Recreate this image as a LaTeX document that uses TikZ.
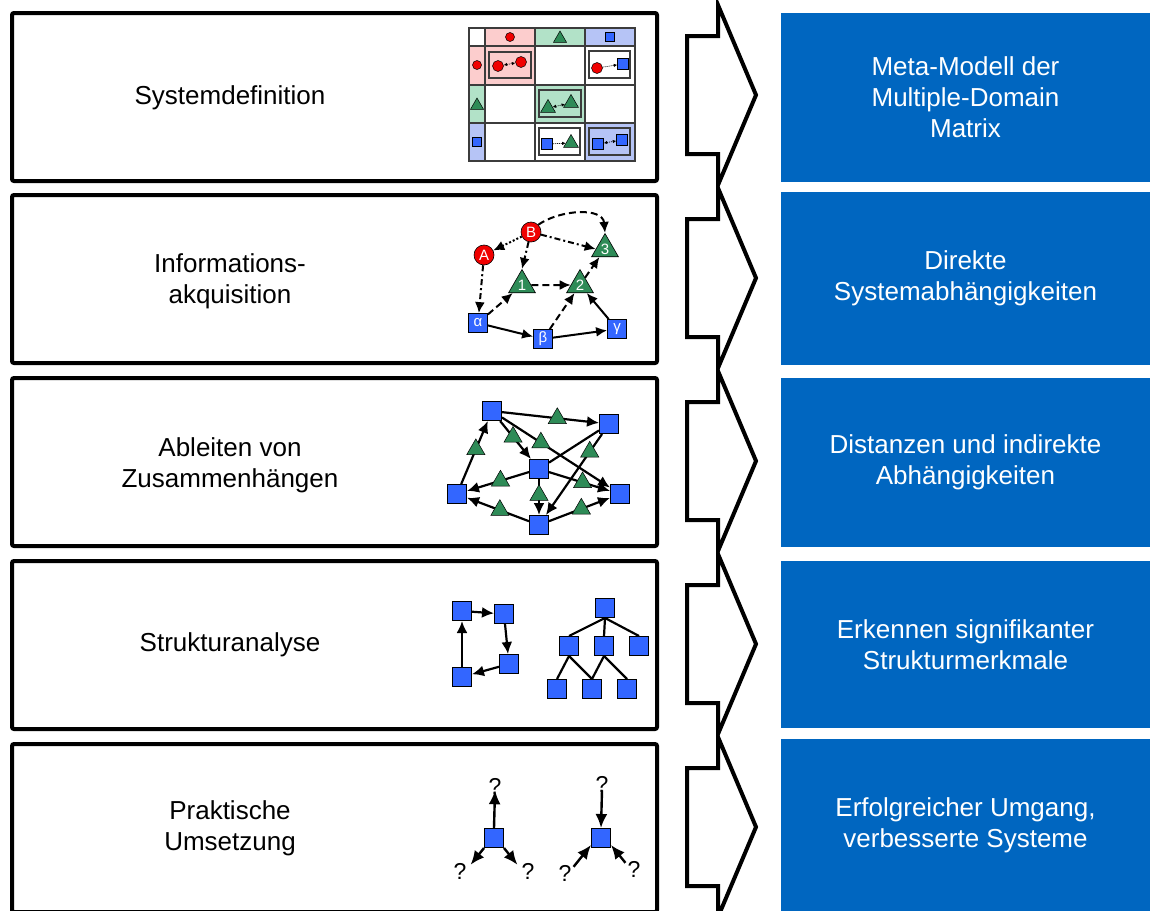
\documentclass[tikz,border=0pt]{standalone}
\usepackage{fontspec}
\setmainfont{Liberation Sans}
\usetikzlibrary{arrows.meta,shapes.geometric}

\definecolor{panelblue}{RGB}{0,102,192}
\definecolor{nodered}{RGB}{240,0,0}
\definecolor{nodegreen}{RGB}{46,139,87}
\definecolor{nodeblue}{RGB}{51,102,255}
\definecolor{tintred}{RGB}{252,205,205}
\definecolor{tintgreen}{RGB}{178,226,200}
\definecolor{tintblue}{RGB}{182,196,246}
\definecolor{gridgray}{RGB}{60,60,60}

\begin{document}
\begin{tikzpicture}[x=1pt,y=-1pt,
  stagebox/.style={draw=black, line width=4pt, rounded corners=2pt, fill=white,
    minimum width=645pt, minimum height=168pt, inner sep=0pt},
  stagelabel/.style={align=center, font=\fontsize{26}{31}\selectfont},
  stagearrow/.style={draw=black, line width=4pt, fill=white, line join=miter},
  resultbox/.style={fill=panelblue, text=white, align=center, inner sep=0pt,
    minimum width=369pt, font=\fontsize{26}{31}\selectfont},
  gridline/.style={draw=gridgray, line width=1.4pt},
  cellbox/.style={draw=gridgray, line width=1.2pt},
  mcirc/.style={circle, draw=black, line width=0.5pt, fill=nodered, minimum size=11pt, inner sep=0pt},
  mtri/.style={regular polygon, regular polygon sides=3, draw=black, line width=0.5pt,
    fill=nodegreen, minimum size=17pt, inner sep=0pt},
  msq/.style={rectangle, draw=black, line width=0.5pt, fill=nodeblue, minimum size=11pt, inner sep=0pt},
  mlink/.style={line width=0.7pt, dash pattern=on 1pt off 1pt},
  mtip/.style={-{Latex[length=3.5pt,width=3.5pt]}},
  mtips/.style={{Latex[length=3.5pt,width=3.5pt]}-{Latex[length=3.5pt,width=3.5pt]}},
  icirc/.style={circle, draw=black, line width=0.6pt, fill=nodered, minimum size=20pt, inner sep=0pt,
    text=white, font=\fontsize{15}{15}\selectfont},
  itri/.style={regular polygon, regular polygon sides=3, draw=black, line width=0.6pt,
    fill=nodegreen, minimum size=31pt, inner sep=0pt, text=white, font=\fontsize{15}{15}\selectfont},
  isq/.style={rectangle, draw=black, line width=0.8pt, fill=nodeblue, minimum size=19pt, inner sep=0pt,
    text=white, font=\fontsize{15}{15}\selectfont},
  bsq/.style={rectangle, draw=black, line width=1pt, fill=nodeblue, minimum size=19pt, inner sep=0pt},
  dtri/.style={regular polygon, regular polygon sides=3, draw=black, line width=0.5pt,
    fill=nodegreen, minimum size=21pt, inner sep=0pt},
  ilink/.style={line width=2pt, -{Latex[length=11pt,width=10pt]}},
  link/.style={line width=2.2pt, -{Latex[length=12pt,width=11pt]}},
  plainlink/.style={line width=2.2pt},
  dashlink/.style={ilink, dash pattern=on 7pt off 4pt},
  dotlink/.style={ilink, dash pattern=on 2pt off 2pt},
  dashdotlink/.style={ilink, dash pattern=on 6pt off 3pt on 2pt off 3pt},
  qmark/.style={font=\fontsize{23}{23}\selectfont, inner sep=0pt},
  biglink/.style={line width=2.4pt, -{Latex[length=14pt,width=12pt]}}
]
\useasboundingbox (0,0) rectangle (1150,910);

% ---------- stage boxes on the left ----------
\node[stagebox] (box1) at (334.5, 97) {};
\node[stagebox] (box2) at (334.5, 279) {};
\node[stagebox] (box3) at (334.5, 462) {};
\node[stagebox] (box4) at (334.5, 645) {};
\node[stagebox] (box5) at (334.5, 828) {};

\node[stagelabel] (lab1) at (230, 98) {Systemdefinition};
\node[stagelabel] (lab2) at (230, 281) {Informations-\\akquisition};
\node[stagelabel] (lab3) at (230, 465) {Ableiten von\\Zusammenhängen};
\node[stagelabel] (lab4) at (230, 645) {Strukturanalyse};
\node[stagelabel] (lab5) at (230, 828) {Praktische\\Umsetzung};

% ---------- chevron arrows ----------
\foreach \c in {95,278,461,644,827} {
  \draw[stagearrow] (687,\c-59) -- (718,\c-59) -- (718,\c-90) -- (756,\c)
    -- (718,\c+90) -- (718,\c+59) -- (687,\c+59) -- cycle;
}

% ---------- result panels on the right ----------
\node[resultbox, minimum height=169pt] (res1) at (965.5, 97.5) {Meta-Modell der\\Multiple-Domain\\Matrix};
\node[resultbox, minimum height=173pt] (res2) at (965.5, 278.5) {Direkte\\Systemabhängigkeiten};
\node[resultbox, minimum height=169pt] (res3) at (965.5, 462.5) {Distanzen und indirekte\\Abhängigkeiten};
\node[resultbox, minimum height=167pt] (res4) at (965.5, 644.5) {Erkennen signifikanter\\Strukturmerkmale};
\node[resultbox, minimum height=173pt] (res5) at (965.5, 825.5) {Erfolgreicher Umgang,\\verbesserte Systeme};

% ---------- multiple-domain matrix ----------
\fill[tintred]   (485,28) rectangle (535,46);
\fill[tintgreen] (535,28) rectangle (585,46);
\fill[tintblue]  (585,28) rectangle (635,46);
\fill[tintred]   (469,46) rectangle (485,85);
\fill[tintgreen] (469,85) rectangle (485,123);
\fill[tintblue]  (469,123) rectangle (485,161);
\fill[tintred]   (485,46) rectangle (535,85);
\fill[tintgreen] (535,85) rectangle (585,123);
\fill[tintblue]  (585,123) rectangle (635,161);
\foreach \x in {485,535,585} \draw[gridline] (\x,28) -- (\x,161);
\foreach \y in {46,85,123} \draw[gridline] (469,\y) -- (635,\y);
\draw[gridline] (469,28) rectangle (635,161);

\draw[cellbox, fill=tintred]   (489,52) rectangle (531,78);
\draw[cellbox, fill=white]     (589,51) rectangle (630,78);
\draw[cellbox, fill=tintgreen] (539,90) rectangle (581,117);
\draw[cellbox, fill=white]     (539,128) rectangle (580,155);
\draw[cellbox, fill=tintblue]  (589,128) rectangle (630,155);

% header symbols
\node[mcirc, minimum size=9pt] (hc) at (510,37) {};
\node[mtri, minimum size=15pt] (ht) at (560,38.5) {};
\node[msq, minimum size=9pt] (hs) at (610,37) {};
\node[mcirc, minimum size=9pt] (vc) at (477,65) {};
\node[mtri, minimum size=15pt] (vt) at (477,105.5) {};
\node[msq, minimum size=9pt] (vs) at (477,142) {};

% cell contents
\node[mcirc] (c11a) at (498,66) {};
\node[mcirc] (c11b) at (521,62) {};
\draw[mlink, mtips] (c11a) -- (c11b);
\node[mcirc] (c13a) at (597,68) {};
\node[msq] (c13b) at (623,64) {};
\draw[mlink, mtip] (c13a) -- (c13b);
\node[mtri] (c22a) at (548,108) {};
\node[mtri] (c22b) at (571,103) {};
\draw[mlink, mtips] (c22a) -- (c22b);
\node[msq] (c32a) at (547,144) {};
\node[mtri] (c32b) at (571,143) {};
\draw[mlink, mtip] (c32a) -- (c32b);
\node[msq] (c33a) at (598,144) {};
\node[msq] (c33b) at (622,140) {};
\draw[mlink, mtips] (c33a) -- (c33b);

% ---------- information acquisition graph ----------
\node[icirc] (iB) at (531,232) {B};
\node[icirc] (iA) at (484,255) {A};
\node[itri] (i3) at (605,249) {3};
\node[itri] (i1) at (522,285) {1};
\node[itri] (i2) at (580,285) {2};
\node[isq] (ia) at (478,323) {α};
\node[isq] (ib) at (543,339) {β};
\node[isq] (ic) at (617,329) {γ};

\draw[dotlink] (iB) -- (iA);
\draw[dashdotlink] (iB) -- (i3.west);
\draw[dashlink] (iB.north east) to[out=35,in=95] (i3.north);
\draw[dashdotlink] (iB) -- (i1.north);
\draw[dashdotlink] (iA) -- (ia);
\draw[dashlink] (ia) -- (i1);
\draw[dashlink] (i1) -- (i2);
\draw[ilink] (ia) -- (ib);
\draw[ilink] (ib) -- (ic);
\draw[dashlink] (ib) -- (i2);
\draw[ilink] (ic) -- (i2);
\draw[dashlink] (i2) -- (i3);

% ---------- derived relations graph ----------
\node[bsq] (d1) at (492,411) {};
\node[bsq] (d2) at (609,424) {};
\node[bsq] (d3) at (539,469) {};
\node[bsq] (d4) at (457,494) {};
\node[bsq] (d5) at (620,494) {};
\node[bsq] (d6) at (539,525) {};

\draw[plainlink] (d3) -- (d2);
\draw[link] (d1) -- node[dtri, pos=0.57] {} (d2);
\draw[link] (d1) -- node[dtri, pos=0.36] {} (d5);
\draw[link] (d1) -- node[dtri, pos=0.42] {} (d3);
\draw[link] (d4) -- node[dtri, pos=0.55] {} (d1);
\draw[link] (d3) -- node[dtri, pos=0.46] {} (d4);
\draw[link] (d3) -- node[dtri, pos=0.55] {} (d5);
\draw[link] (d3) -- node[dtri, pos=0.45] {} (d6);
\draw[link] (d6) -- node[dtri, pos=0.47] {} (d4);
\draw[link] (d6) -- node[dtri, pos=0.53] {} (d5);
\draw[link] (d2) -- node[dtri, pos=0.22] {} (d6);

% ---------- structure analysis ----------
\node[bsq] (s1) at (462,611) {};
\node[bsq] (s2) at (504,614) {};
\node[bsq] (s3) at (509,664) {};
\node[bsq] (s4) at (462,677) {};
\draw[link] (s1) -- (s2);
\draw[link] (s2) -- (s3);
\draw[link] (s3) -- (s4);
\draw[link] (s4) -- (s1);

\node[bsq] (t0) at (605,608) {};
\node[bsq] (t1) at (569,646) {};
\node[bsq] (t2) at (604,646) {};
\node[bsq] (t3) at (639,646) {};
\node[bsq] (t4) at (557,689) {};
\node[bsq] (t5) at (592,689) {};
\node[bsq] (t6) at (627,689) {};
\draw[plainlink] (t0.south) -- (t1.north);
\draw[plainlink] (t0.south) -- (t2.north);
\draw[plainlink] (t0.south) -- (t3.north);
\draw[plainlink] (t1.south) -- (t4.north);
\draw[plainlink] (t1.south) -- (t5.north);
\draw[plainlink] (t2.south) -- (t5.north);
\draw[plainlink] (t2.south) -- (t6.north);

% ---------- practical use ----------
\node[bsq] (p1) at (494,838) {};
\node[qmark] (q1t) at (495,786) {?};
\node[qmark] (q1l) at (460,871) {?};
\node[qmark] (q1r) at (528,871) {?};
\draw[biglink] (p1.north) -- ([yshift=4pt]q1t.south);
\draw[biglink] (p1.south west) -- ([xshift=4pt,yshift=-2pt]q1l.north east);
\draw[biglink] (p1.south east) -- ([xshift=-4pt,yshift=-2pt]q1r.north west);

\node[bsq] (p2) at (601,838) {};
\node[qmark] (q2t) at (602,784) {?};
\node[qmark] (q2l) at (565,873) {?};
\node[qmark] (q2r) at (634,869) {?};
\draw[biglink] ([yshift=2pt]q2t.south) -- (p2.north);
\draw[biglink] ([xshift=2pt,yshift=-2pt]q2l.north east) -- ([yshift=3pt]p2.south west);
\draw[biglink] ([xshift=-2pt,yshift=-2pt]q2r.north west) -- ([yshift=3pt]p2.south east);
\end{tikzpicture}
\end{document}
